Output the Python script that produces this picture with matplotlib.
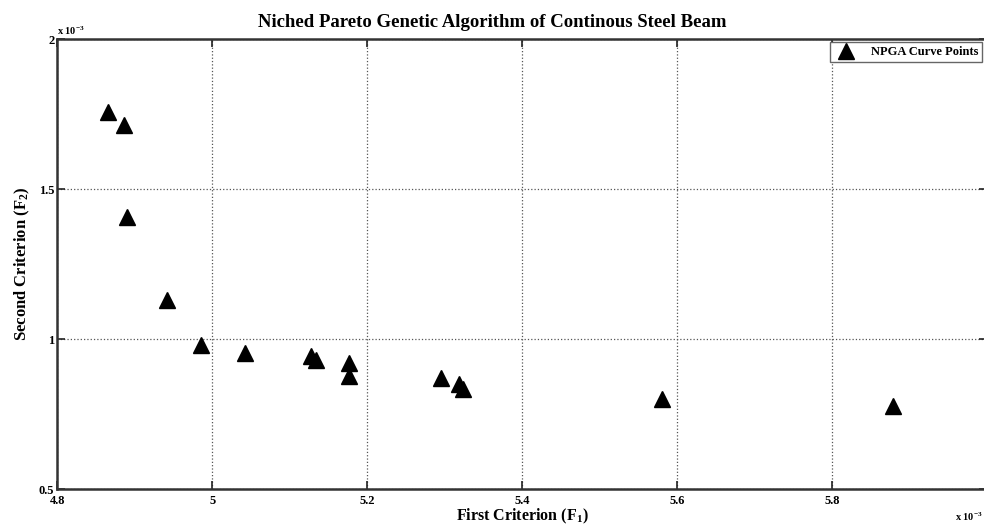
import matplotlib.pyplot as plt

# values (axis units are x 10^-3)
first_criterion = [4.865, 4.886, 4.890, 4.942, 4.986, 5.042, 5.128, 5.134,
                   5.177, 5.177, 5.295, 5.319, 5.324, 5.580, 5.879]
second_criterion = [1.757, 1.713, 1.407, 1.130, 0.980, 0.953, 0.943, 0.930,
                    0.920, 0.877, 0.872, 0.852, 0.835, 0.802, 0.778]

x_ticks = [4.8, 5.0, 5.2, 5.4, 5.6, 5.8, 6.0]
# the '6' label falls just past the right edge of the picture
x_tick_labels = ['4.8', '5', '5.2', '5.4', '5.6', '5.8', '']
y_ticks = [0.5, 1.0, 1.5, 2.0]
y_tick_labels = ['0.5', '1', '1.5', '2']

plt.rcParams['font.family'] = 'Liberation Serif'
plt.rcParams['font.weight'] = 'bold'
plt.rcParams['mathtext.default'] = 'regular'

fig = plt.figure(figsize=(9.84, 5.25), dpi=100)
ax = fig.add_axes([0.0582, 0.068, 0.9448, 0.8577])

ax.plot(first_criterion, second_criterion, '^', color='black', ms=11,
        label='NPGA Curve Points', zorder=3)

ax.set_xlim(4.8, 6.0)
ax.set_ylim(0.5, 2.0)
ax.set_xticks(x_ticks)
ax.set_xticklabels(x_tick_labels, fontsize=9, fontweight='bold')
ax.set_yticks(y_ticks)
ax.set_yticklabels(y_tick_labels, fontsize=9, fontweight='bold')
ax.tick_params(direction='in', length=6, width=1.2, top=True, right=True,
               color='#222222')
ax.tick_params(axis='x', pad=4)
ax.tick_params(axis='y', pad=2)
ax.grid(True, linestyle=':', color='#555555', linewidth=0.9)
for s in ax.spines.values():
    s.set_linewidth(1.8)
    s.set_color('#333333')

fig.text(0.5, 0.958, 'Niched Pareto Genetic Algorithm of Continous Steel Beam',
         fontsize=13.5, fontweight='bold', ha='center', va='center')
ax.set_xlabel('First Criterion (F$_{1}$)', fontsize=11.5, fontweight='bold',
              labelpad=0)
ax.set_ylabel('Second Criterion (F$_{2}$)', fontsize=12, fontweight='bold',
              labelpad=5)

ax.text(0.0, 1.004, 'x 10$^{-3}$', transform=ax.transAxes, fontsize=7.5,
        fontweight='bold', ha='left', va='bottom')
fig.text(0.999, 0.003, 'x 10$^{-3}$', fontsize=7.5, fontweight='bold',
         ha='right', va='bottom')

leg = ax.legend(loc='upper right', bbox_to_anchor=(0.9975, 0.9985),
                prop={'size': 9, 'weight': 'bold'}, fancybox=False,
                framealpha=1, edgecolor='#666666', borderpad=0.3,
                handletextpad=1.0, handlelength=2.0, borderaxespad=0.2)
leg.get_frame().set_linewidth(1.0)

fig.savefig('out.png', dpi=100)
